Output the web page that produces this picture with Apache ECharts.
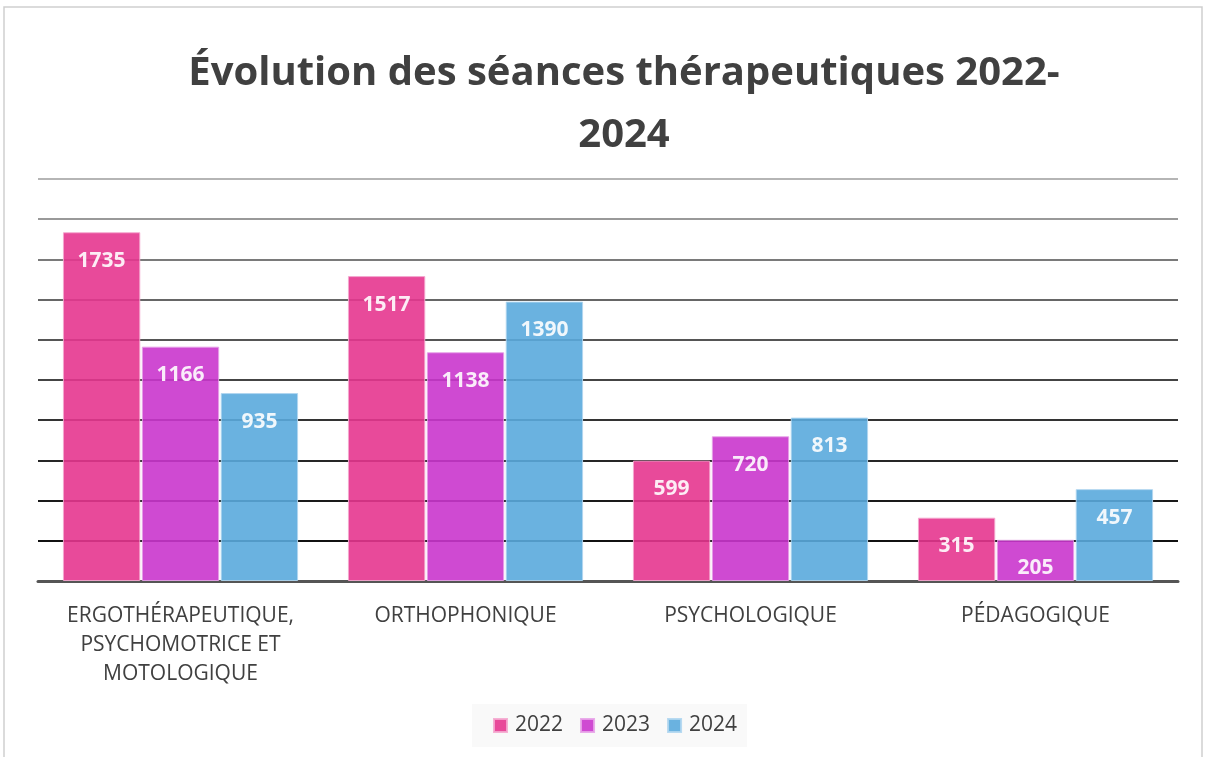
<!DOCTYPE html>
<html>
  <head>
    <meta charset="utf-8">
    <title>Séances thérapeutiques</title>
    <script src="https://cdn.jsdelivr.net/npm/echarts@6/dist/echarts.min.js"></script>
    <style>
      html, body { margin: 0; padding: 0; background: #fff; }
      #main { width: 1205px; height: 757px; }
    </style>
  </head>
  <body>
    <div id="main"></div>
    <script type="text/javascript">
      // données
      var categories = ['ERGOTHÉRAPEUTIQUE,\nPSYCHOMOTRICE ET\nMOTOLOGIQUE', 'ORTHOPHONIQUE', 'PSYCHOLOGIQUE', 'PÉDAGOGIQUE'];
      var years = ['2022', '2023', '2024'];
      var v2022 = [1735, 1517, 599, 315];
      var v2023 = [1166, 1138, 720, 205];
      var v2024 = [935, 1390, 813, 457];
      var colors = ['#e5368f', '#ca36cd', '#5aaadd'];
      var borders = ['#f4a8cf', '#e7a3e8', '#b0d6ef'];

      // lignes de grille : noires en bas, grises en haut
      var gridColors = ['#555', '#111', '#1a1a1a', '#262626', '#333', '#444', '#555', '#666', '#7a7a7a', '#999', '#b5b5b5'];

      var seriesData = [v2022, v2023, v2024];
      var series = [];
      for (var i = 0; i < years.length; i++) {
        series.push({
          name: years[i],
          type: 'bar',
          data: seriesData[i],
          barGap: '2%',
          barCategoryGap: '17.5%',
          itemStyle: { color: colors[i], opacity: 0.9, borderColor: borders[i], borderWidth: 1 },
          label: {
            show: true,
            position: 'insideTop',
            distance: 18,
            color: '#fff',
            fontFamily: 'Open Sans',
            fontWeight: 'bold',
            fontSize: 21
          }
        });
      }

      var myChart = echarts.init(document.getElementById('main'));
      myChart.setOption({
        animation: false,
        color: colors,
        title: {
          text: 'Évolution des séances thérapeutiques 2022-\n2024',
          left: 619,
          top: 38,
          textAlign: 'center',
          textStyle: {
            fontFamily: 'Open Sans',
            fontWeight: 'bold',
            fontSize: 40,
            lineHeight: 62,
            color: '#404040'
          }
        },
        legend: {
          data: years,
          bottom: 10,
          left: 472,
          backgroundColor: '#f9f9f9',
          padding: [11, 10, 11, 21],
          itemWidth: 13,
          itemHeight: 13,
          itemGap: 17,
          icon: 'rect',
          textStyle: { fontFamily: 'Open Sans', fontSize: 21, color: '#404040', padding: [0, 0, 0, 3] }
        },
        graphic: [{
          type: 'rect',
          shape: { x: 4, y: 7, width: 1198, height: 760 },
          style: { fill: 'none', stroke: '#cfcfcf', lineWidth: 1.5 },
          silent: true
        }],
        grid: { left: 38, right: 27, top: 179, bottom: 176 },
        xAxis: {
          type: 'category',
          data: categories,
          axisTick: { show: false },
          axisLine: { lineStyle: { color: '#555', width: 3 } },
          axisLabel: {
            fontFamily: 'Open Sans',
            fontSize: 21,
            lineHeight: 29,
            color: '#404040',
            margin: 21,
            interval: 0
          }
        },
        yAxis: {
          type: 'value',
          min: 0,
          max: 2000,
          interval: 200,
          axisLabel: { show: false },
          axisLine: { show: false },
          axisTick: { show: false },
          splitLine: { lineStyle: { color: gridColors, width: 2 } }
        },
        series: series
      });
    </script>
  </body>
</html>
